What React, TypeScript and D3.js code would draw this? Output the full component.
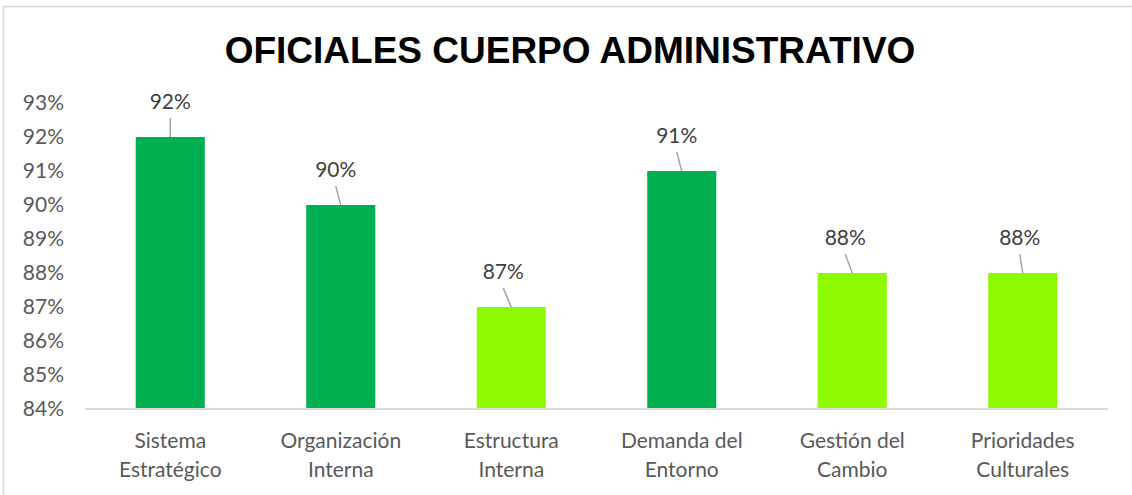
import React from "react";
import * as d3 from "d3";

const title = "OFICIALES CUERPO ADMINISTRATIVO";
const categories = [
  ["Sistema", "Estratégico"],
  ["Organización", "Interna"],
  ["Estructura", "Interna"],
  ["Demanda del", "Entorno"],
  ["Gestión del", "Cambio"],
  ["Prioridades", "Culturales"],
];
const values = [92, 90, 87, 91, 88, 88];
const barTone = ["dark", "dark", "light", "dark", "light", "light"];
const yTicks = [84, 85, 86, 87, 88, 89, 90, 91, 92, 93];
const labelShift = [0, -5, -8, -5, -7, -3];

const W = 1132;
const H = 495;
const margin = { left: 85, right: 24, top: 103, bottom: 86 };
const FONT = "Lato, 'Open Sans', sans-serif";
const colors: Record<string, string> = { dark: "#00B050", light: "#8EFA00" };

export default function App() {
  const x = d3
    .scaleBand<number>()
    .domain(values.map((_, i) => i))
    .range([margin.left, W - margin.right])
    .paddingInner(0.595)
    .paddingOuter(0.2975);
  const y = d3
    .scaleLinear()
    .domain([84, 93])
    .range([H - margin.bottom, margin.top]);
  const y0 = y(84);

  return (
    <svg
      width={W}
      height={H}
      style={{ position: "absolute", left: 0, top: 0, background: "#fff" }}
    >
      <rect x={3.5} y={6.5} width={W + 10} height={H + 10} fill="#fff" stroke="#d9d9d9" strokeWidth={1.5} />
      <text
        x={570}
        y={63}
        textAnchor="middle"
        fontFamily="'Liberation Sans', Arial, sans-serif"
        fontWeight="bold"
        fontSize={37}
        fill="#000"
      >
        {title}
      </text>
      {yTicks.map((t) => (
        <text
          key={t}
          x={64}
          y={y(t)}
          dy="0.35em"
          textAnchor="end"
          fontFamily={FONT}
          fontSize={21}
          fill="#595959"
        >
          {t}%
        </text>
      ))}
      {values.map((v, i) => (
        <rect
          key={i}
          x={x(i)!}
          y={y(v)}
          width={x.bandwidth()}
          height={y0 - y(v)}
          fill={colors[barTone[i]]}
        />
      ))}
      <line x1={margin.left} x2={W - margin.right} y1={y0} y2={y0} stroke="#d9d9d9" strokeWidth={2} />
      {values.map((v, i) => {
        const cx = x(i)! + x.bandwidth() / 2;
        const lx = cx + labelShift[i];
        return (
          <g key={i}>
            <line x1={lx} y1={y(v) - 19} x2={cx} y2={y(v)} stroke="#a6a6a6" strokeWidth={1.5} />
            <text
              x={lx}
              y={y(v) - 28}
              textAnchor="middle"
              fontFamily={FONT}
              fontSize={21}
              fill="#404040"
            >
              {v}%
            </text>
          </g>
        );
      })}
      {categories.map((c, i) => {
        const cx = x(i)! + x.bandwidth() / 2;
        return (
          <text key={i} textAnchor="middle" fontFamily={FONT} fontSize={21} fill="#595959">
            <tspan x={cx} y={448}>{c[0]}</tspan>
            <tspan x={cx} y={477}>{c[1]}</tspan>
          </text>
        );
      })}
    </svg>
  );
}
